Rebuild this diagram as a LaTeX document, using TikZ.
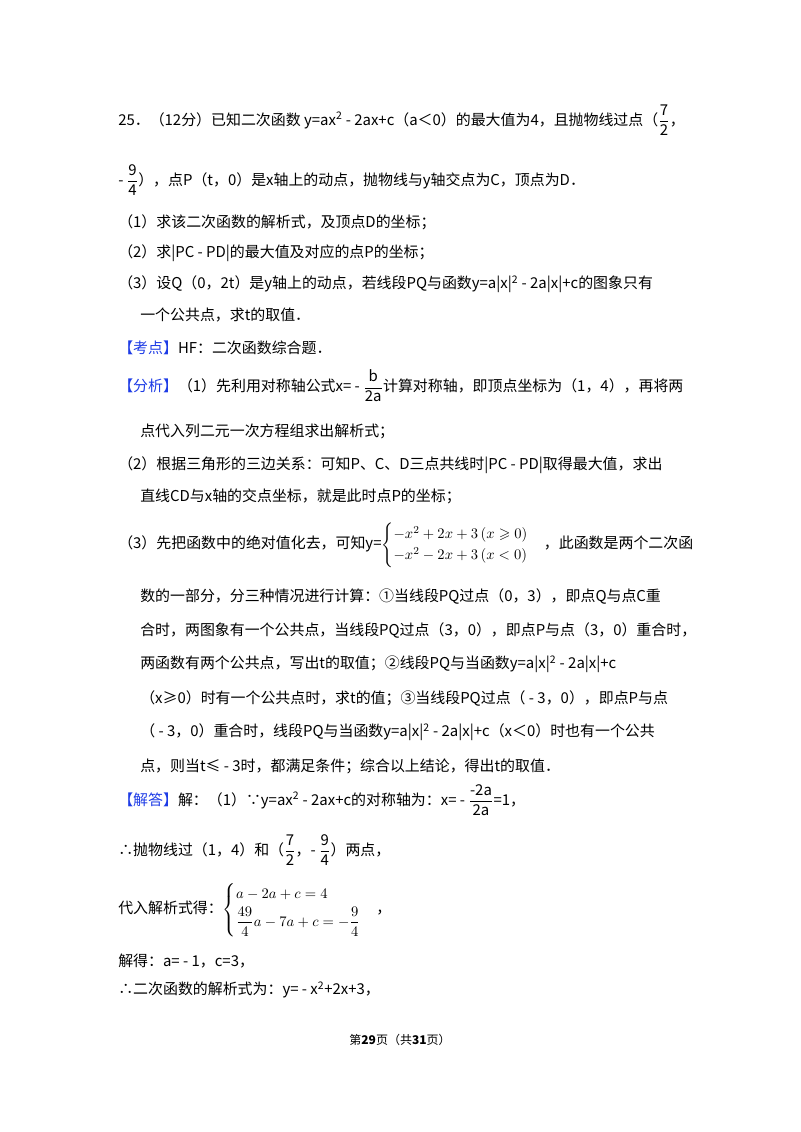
\documentclass[tikz,border=0pt]{standalone}
\usepackage{fontspec}
\usepackage{amsmath,amssymb}
\setmainfont{Noto Sans CJK SC}
\definecolor{kblue}{RGB}{30,60,230}
\newcommand{\fr}[2]{$\dfrac{\text{#1}}{\text{#2}}$}
\newcommand{\hl}[1]{\textcolor{kblue}{#1}}
\begin{document}
\begin{tikzpicture}[x=0.75pt,y=-0.75pt,
  t/.style={anchor=west,inner sep=0pt,font=\fontsize{11.2}{13}\selectfont}]
\useasboundingbox (0,0) rectangle (800,1132);
\fill[white] (0,0) rectangle (800,1132);
\node[t] (l1) at (118,120) {25．（12分）已知二次函数 y=ax\textsuperscript{2} - 2ax+c（a＜0）的最大值为4，且抛物线过点（\fr{7}{2}，};
\node[t] (l2) at (118,180) {- \fr{9}{4}），点P（t，0）是x轴上的动点，抛物线与y轴交点为C，顶点为D．};
\node[t] (l3) at (118,222) {（1）求该二次函数的解析式，及顶点D的坐标；};
\node[t] (l4) at (118,253) {（2）求|PC - PD|的最大值及对应的点P的坐标；};
\node[t] (l5) at (118,284) {（3）设Q（0，2t）是y轴上的动点，若线段PQ与函数y=a|x|\textsuperscript{2} - 2a|x|+c的图象只有};
\node[t] (l6) at (140,315) {一个公共点，求t的取值．};
\node[t] (l7) at (118,348) {\hl{【考点】}HF：二次函数综合题．};
\node[t] (l8) at (118,386) {\hl{【分析】}（1）先利用对称轴公式x= - \fr{b}{2a}计算对称轴，即顶点坐标为（1，4），再将两};
\node[t] (l9) at (140,431) {点代入列二元一次方程组求出解析式；};
\node[t] (l10) at (118,465) {（2）根据三角形的三边关系：可知P、C、D三点共线时|PC - PD|取得最大值，求出};
\node[t] (l11) at (140,496) {直线CD与x轴的交点坐标，就是此时点P的坐标；};
\node[t] (l12) at (118,545) {（3）先把函数中的绝对值化去，可知y=$\begin{cases}-x^2+2x+3\,(x\geqslant 0)\\ -x^2-2x+3\,(x<0)\end{cases}$，此函数是两个二次函};
\node[t] (l13) at (140,596) {数的一部分，分三种情况进行计算：①当线段PQ过点（0，3），即点Q与点C重};
\node[t] (l14) at (140,630) {合时，两图象有一个公共点，当线段PQ过点（3，0），即点P与点（3，0）重合时，};
\node[t] (l15) at (140,664) {两函数有两个公共点，写出t的取值；②线段PQ与当函数y=a|x|\textsuperscript{2} - 2a|x|+c};
\node[t] (l16) at (140,698) {（x≥0）时有一个公共点时，求t的值；③当线段PQ过点（ - 3，0），即点P与点};
\node[t] (l17) at (140,732) {（ - 3，0）重合时，线段PQ与当函数y=a|x|\textsuperscript{2} - 2a|x|+c（x＜0）时也有一个公共};
\node[t] (l18) at (140,766) {点，则当t≤ - 3时，都满足条件；综合以上结论，得出t的取值．};
\node[t] (l19) at (118,800) {\hl{【解答】}解：（1）∵y=ax\textsuperscript{2} - 2ax+c的对称轴为：x= - \fr{-2a}{2a}=1，};
\node[t] (l20) at (118,850) {∴抛物线过（1，4）和（\fr{7}{2}，- \fr{9}{4}）两点，};
\node[t] (l21) at (118,910) {代入解析式得：$\begin{cases}a-2a+c=4\\[2pt] \dfrac{49}{4}a-7a+c=-\dfrac{9}{4}\end{cases}$，};
\node[t] (l22) at (118,961) {解得：a= - 1，c=3，};
\node[t] (l23) at (118,990) {∴二次函数的解析式为：y= - x\textsuperscript{2}+2x+3，};
\node[inner sep=0pt,font=\fontsize{9}{11}\selectfont] (ft) at (400,1040) {第\textbf{29}页（共\textbf{31}页）};
\end{tikzpicture}
\end{document}
